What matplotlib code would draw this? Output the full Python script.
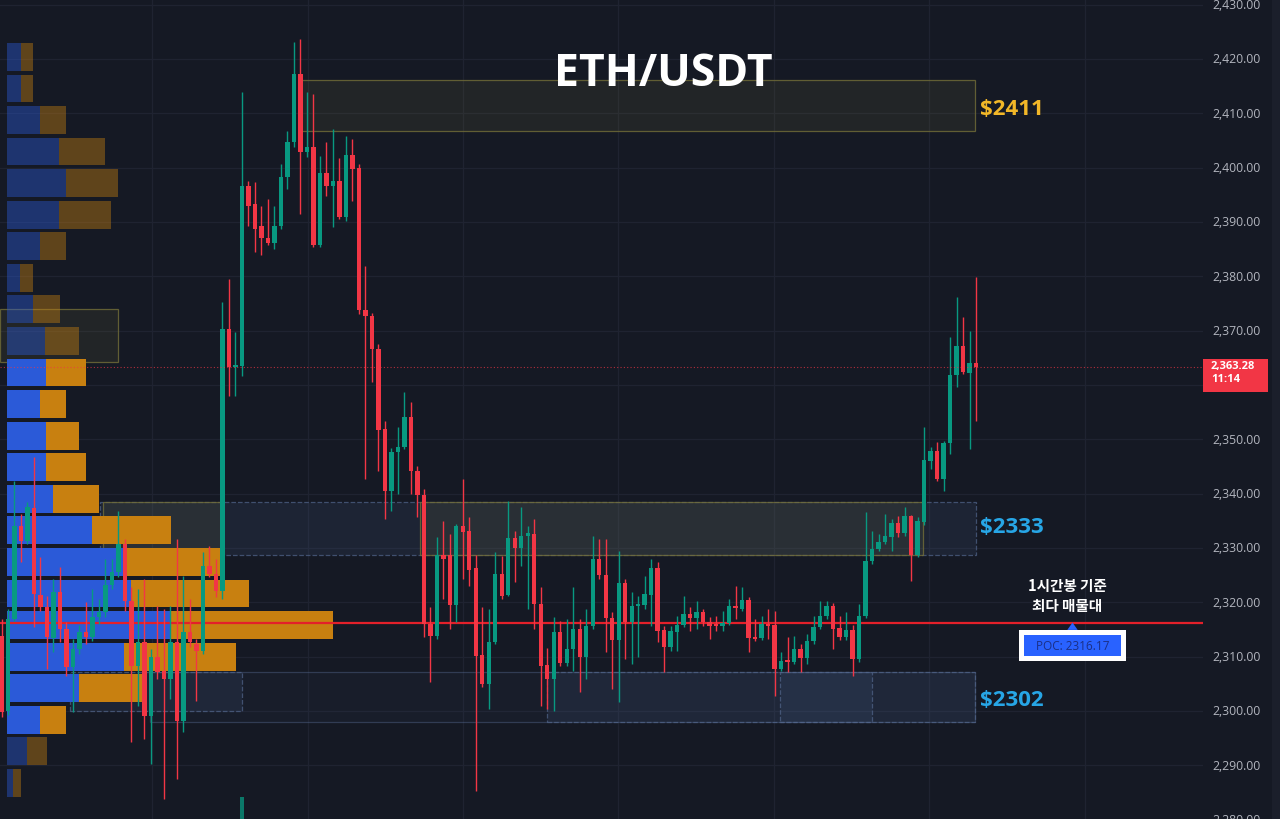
import matplotlib
matplotlib.use("Agg")
import matplotlib.pyplot as plt
import matplotlib.transforms as mtransforms
from matplotlib import font_manager
from matplotlib.patches import Rectangle, Polygon
import numpy as np

# Globals

# 1h candles, ETH/USDT
opens = [
    2313.8, 2300.0, 2316.9, 2334.0, 2331.3, 2337.4, 2321.3, 2319.1, 2313.4, 2321.9,
    2315.1, 2308.1, 2311.4, 2314.5, 2313.6, 2317.3, 2318.2, 2323.2, 2325.6, 2330.7,
    2320.2, 2308.3, 2312.7, 2299.1, 2309.9, 2307.4, 2305.9, 2312.7, 2298.2, 2314.5,
    2312.3, 2311.0, 2326.6, 2325.2, 2322.0, 2370.3, 2363.3, 2363.5, 2396.6, 2393.3,
    2389.2, 2387.0, 2386.2, 2389.2, 2398.3, 2404.7, 2417.2, 2402.9, 2403.8, 2385.8,
    2399.0, 2396.6, 2397.5, 2390.9, 2402.3, 2399.9, 2373.8, 2372.7, 2366.6, 2351.9,
    2340.5, 2347.7, 2348.6, 2354.1, 2344.2, 2339.8, 2316.0, 2313.8, 2328.7, 2328.7,
    2319.5, 2334.0, 2333.1, 2326.3, 2310.3, 2305.0, 2312.7, 2325.2, 2321.3, 2331.8,
    2330.0, 2332.2, 2332.6, 2319.7, 2308.5, 2305.9, 2314.5, 2308.8, 2311.4, 2315.1,
    2309.9, 2315.6, 2327.9, 2325.0, 2317.1, 2313.1, 2323.6, 2316.4, 2319.3, 2319.5,
    2321.3, 2326.3, 2314.9, 2311.8, 2314.5, 2315.8, 2317.8, 2317.1, 2318.2, 2316.4,
    2316.0, 2315.6, 2316.2, 2319.3, 2318.8, 2320.4, 2313.4, 2313.4, 2316.0, 2315.8,
    2307.8, 2309.4, 2309.0, 2311.4, 2309.8, 2312.9, 2315.5, 2317.5, 2319.3, 2315.3,
    2313.6, 2314.9, 2309.6, 2317.5, 2327.6, 2329.8, 2331.1, 2332.0, 2334.6, 2332.7,
    2335.9, 2328.7, 2334.8, 2346.0, 2347.8, 2342.7, 2349.3, 2361.8, 2367.2, 2362.2,
    2364.0,
]
highs = [
    2316.9, 2318.8, 2342.3, 2336.2, 2338.5, 2346.8, 2328.3, 2321.1, 2324.3, 2326.5,
    2316.4, 2313.2, 2315.8, 2320.1, 2322.4, 2320.6, 2327.9, 2327.9, 2336.8, 2331.6,
    2322.8, 2322.4, 2324.3, 2311.4, 2319.3, 2318.8, 2319.3, 2331.6, 2324.8, 2320.6,
    2313.2, 2329.2, 2330.3, 2327.9, 2375.3, 2379.5, 2369.7, 2413.9, 2397.5, 2397.4,
    2392.9, 2394.2, 2392.9, 2400.7, 2406.7, 2423.1, 2423.7, 2413.9, 2413.5, 2402.1,
    2404.7, 2407.1, 2401.7, 2405.8, 2405.3, 2400.7, 2381.9, 2373.2, 2367.5, 2353.4,
    2348.4, 2352.3, 2358.7, 2356.9, 2345.0, 2340.9, 2319.1, 2332.0, 2334.9, 2332.6,
    2334.4, 2342.7, 2335.7, 2328.7, 2319.1, 2318.8, 2329.2, 2328.5, 2338.6, 2333.1,
    2337.5, 2334.0, 2335.3, 2322.8, 2311.6, 2317.3, 2316.6, 2316.9, 2322.8, 2316.9,
    2318.8, 2332.2, 2331.6, 2331.6, 2318.2, 2329.4, 2324.3, 2321.9, 2321.1, 2324.8,
    2327.9, 2327.4, 2315.6, 2315.6, 2317.5, 2321.1, 2319.1, 2320.2, 2318.8, 2317.3,
    2317.5, 2318.4, 2320.6, 2323.0, 2322.8, 2321.0, 2316.9, 2317.5, 2318.8, 2318.4,
    2310.9, 2313.6, 2313.8, 2312.3, 2314.2, 2317.5, 2320.2, 2320.2, 2319.9, 2317.5,
    2318.2, 2315.8, 2319.7, 2336.6, 2333.1, 2332.6, 2336.2, 2335.3, 2335.9, 2337.5,
    2336.0, 2335.7, 2352.3, 2348.6, 2349.5, 2349.7, 2368.8, 2376.2, 2372.5, 2369.9,
    2379.9,
]
lows = [
    2298.9, 2299.3, 2316.6, 2327.4, 2330.7, 2315.5, 2318.4, 2307.8, 2310.9, 2312.7,
    2306.4, 2299.8, 2310.5, 2312.3, 2312.9, 2316.0, 2317.3, 2322.4, 2324.7, 2318.4,
    2294.3, 2300.9, 2294.8, 2290.2, 2305.9, 2283.8, 2302.2, 2287.5, 2296.1, 2311.7,
    2301.8, 2310.5, 2324.7, 2321.0, 2320.6, 2358.0, 2358.0, 2361.7, 2389.3, 2384.4,
    2384.0, 2385.8, 2385.0, 2388.8, 2396.1, 2403.8, 2391.5, 2402.0, 2385.4, 2385.4,
    2394.8, 2389.1, 2390.6, 2390.1, 2393.9, 2373.1, 2342.7, 2360.5, 2344.2, 2335.3,
    2336.8, 2339.9, 2348.2, 2339.9, 2335.7, 2313.6, 2305.3, 2313.2, 2320.6, 2315.1,
    2316.4, 2324.3, 2323.0, 2285.3, 2304.4, 2300.4, 2312.3, 2320.6, 2321.1, 2323.7,
    2326.6, 2318.8, 2315.1, 2300.9, 2300.4, 2300.0, 2308.3, 2308.3, 2307.4, 2303.5,
    2305.9, 2315.1, 2324.3, 2310.9, 2304.0, 2301.6, 2309.6, 2308.7, 2309.9, 2318.8,
    2315.6, 2312.7, 2307.2, 2311.0, 2311.0, 2315.5, 2314.7, 2315.1, 2315.6, 2313.2,
    2314.7, 2314.7, 2315.8, 2316.9, 2318.4, 2310.9, 2312.9, 2313.1, 2313.2, 2302.8,
    2307.4, 2307.2, 2308.7, 2307.2, 2308.7, 2312.3, 2315.1, 2316.9, 2311.4, 2313.1,
    2313.1, 2306.4, 2309.0, 2317.1, 2327.0, 2329.4, 2330.7, 2329.4, 2332.0, 2332.2,
    2323.9, 2328.3, 2334.2, 2344.5, 2342.3, 2340.5, 2347.3, 2359.6, 2362.0, 2348.2,
    2353.4,
]
closes = [
    2299.8, 2316.9, 2334.0, 2331.3, 2337.5, 2321.5, 2319.1, 2313.6, 2321.9, 2315.1,
    2308.1, 2311.4, 2314.5, 2313.6, 2317.3, 2318.2, 2323.2, 2325.6, 2330.7, 2320.2,
    2308.3, 2312.7, 2299.1, 2309.9, 2307.2, 2305.9, 2312.7, 2298.2, 2314.5, 2312.7,
    2311.0, 2326.6, 2325.2, 2322.0, 2370.3, 2363.3, 2363.7, 2396.6, 2392.9, 2388.8,
    2387.0, 2386.2, 2389.2, 2398.3, 2404.7, 2417.2, 2402.9, 2403.8, 2385.8, 2399.0,
    2396.6, 2397.5, 2390.9, 2402.3, 2399.7, 2373.8, 2372.7, 2366.6, 2351.7, 2340.5,
    2347.7, 2348.6, 2354.1, 2344.2, 2339.8, 2316.0, 2313.8, 2328.7, 2327.9, 2319.5,
    2334.0, 2332.9, 2325.9, 2310.1, 2305.0, 2312.7, 2325.2, 2321.1, 2331.8, 2330.0,
    2332.2, 2332.7, 2319.7, 2308.3, 2305.9, 2314.5, 2308.8, 2311.4, 2315.1, 2309.9,
    2315.6, 2327.9, 2325.0, 2317.1, 2313.1, 2323.6, 2316.4, 2319.3, 2319.7, 2321.5,
    2326.3, 2314.7, 2311.8, 2314.7, 2315.8, 2317.8, 2317.1, 2318.2, 2316.4, 2315.6,
    2315.6, 2316.2, 2319.3, 2318.9, 2320.4, 2313.4, 2313.2, 2316.0, 2315.6, 2307.8,
    2309.2, 2309.0, 2311.4, 2309.8, 2312.9, 2315.5, 2317.5, 2319.3, 2315.1, 2313.6,
    2314.9, 2309.6, 2317.5, 2327.6, 2329.8, 2331.1, 2332.2, 2334.6, 2332.7, 2335.9,
    2328.7, 2334.9, 2346.2, 2347.8, 2342.7, 2349.3, 2361.8, 2367.2, 2362.4, 2364.0,
    2363.28,
]

# Volume profile rows, top row first (buy = blue, sell = orange)
profile_buy = [14, 14, 33, 52, 59, 52, 33, 13, 26, 38, 39, 33, 39, 39, 46, 85, 118, 124, 163, 117, 72, 33, 20, 6]
profile_sell = [12, 12, 26, 46, 52, 52, 26, 13, 27, 34, 40, 26, 33, 40, 46, 79, 95, 118, 163, 112, 63, 26, 20, 8]
PROFILE_TOP = 2423.3
PROFILE_STEP = 5.81
VALUE_AREA = range(10, 22)

POC = 2316.17
LAST_PRICE = 2363.28
LAST_TIMER = "11:14"

# candle index 37 has the only volume bar tall enough to show
volume_spike = (37, 2284.2)

price_ticks = list(range(2280, 2431, 10))
time_grid = [23.2, 47.1, 71.0, 94.9, 118.9, 142.8, 166.8]

# zones: (first candle, last candle, low, high, style)
zones = [
    (46.0, 149.8, 2406.7, 2416.1, "olive"),
    (-0.3, 17.9, 2364.2, 2374.0, "olive"),
    (15.2, 150.0, 2328.7, 2338.5, "blue"),
    (15.6, 34.0, 2328.7, 2338.5, "olive"),
    (64.4, 141.8, 2328.7, 2338.5, "olive"),
    (22.9, 149.8, 2298.0, 2307.2, "faint"),
    (10.5, 37.0, 2300.0, 2307.2, "blue"),
    (84.0, 149.8, 2298.0, 2307.2, "blue"),
    (119.8, 134.0, 2298.0, 2307.2, "blue"),
]
zone_labels = [("$2411", 2410.8, "#f2b728"), ("$2333", 2334.0, "#27a6e6"), ("$2302", 2302.2, "#27a6e6")]

# Layout (pixels of the 1280x820 canvas)
W, H = 1280, 820
PLOT_W = 1203
X0_PX = 1.5
STEP_PX = 6.497
YLIM = (2280.12, 2431.04)
TAG_ABOVE, TAG_BELOW = 8, 25  # px of the last-price tag around the price

BG = "#151924"
GRID = "#1f2331"
GREEN = "#089981"
RED = "#f23645"
BLUE = "#2b5ad8"
ORANGE = "#c88010"

ZONE_STYLE = {
    "olive": dict(facecolor=(0.47, 0.45, 0.24, 0.14), edgecolor=(0.45, 0.43, 0.22, 0.8), linestyle="-"),
    "blue": dict(facecolor=(0.30, 0.40, 0.58, 0.15), edgecolor=(0.32, 0.40, 0.55, 0.7), linestyle="--"),
    "faint": dict(facecolor=(0.30, 0.40, 0.58, 0.06), edgecolor=(0.32, 0.40, 0.55, 0.45), linestyle="-"),
}

KR = ["Noto Sans CJK KR", "DejaVu Sans"]


def bold_family():
    """
    Returns the first sans family that really has a bold face installed.
    """
    for fam in ["Noto Sans", "Open Sans", "Roboto", "Lato", "Liberation Sans"]:
        try:
            path = font_manager.findfont(font_manager.FontProperties(family=fam, weight="bold"),
                                         fallback_to_default=False)
        except ValueError:
            continue
        if "bold" in path.lower():
            return fam
    return "DejaVu Sans"


def price_to_frac(p):
    return (p - YLIM[0]) / (YLIM[1] - YLIM[0])


def draw_zones(ax, fam):
    for x0, x1, lo, hi, style in zones:
        ax.add_patch(Rectangle((x0, lo), x1 - x0, hi - lo, linewidth=0.9, zorder=1.5, **ZONE_STYLE[style]))
    for text, y, color in zone_labels:
        ax.text(150.6, y, text, color=color, fontsize=16, fontweight="bold", family=fam,
                ha="left", va="center", zorder=6)


def draw_profile(ax):
    left = (7 - X0_PX) / STEP_PX
    h = PROFILE_STEP * 0.88
    for k, (b, s) in enumerate(zip(profile_buy, profile_sell)):
        center = PROFILE_TOP - PROFILE_STEP * (k + 0.5)
        alpha = 1.0 if k in VALUE_AREA else 0.42
        bw = b / STEP_PX
        sw = s / STEP_PX
        ax.barh(center, bw, left=left, height=h, color=BLUE, alpha=alpha, zorder=2, linewidth=0)
        ax.barh(center, sw, left=left + bw, height=h, color=ORANGE, alpha=alpha, zorder=2, linewidth=0)


def draw_candles(ax):
    o = np.array(opens)
    c = np.array(closes)
    x = np.arange(len(o))
    colors = [GREEN if cc >= oo else RED for oo, cc in zip(o, c)]
    ax.vlines(x, lows, highs, colors=colors, linewidth=1.0, zorder=3)
    bottom = np.minimum(o, c)
    height = np.maximum(np.abs(c - o), 0.35)
    ax.bar(x, height, bottom=bottom, width=0.68, color=colors, linewidth=0, zorder=3.5)
    idx, top = volume_spike
    ax.bar(idx, top - YLIM[0], bottom=YLIM[0], width=0.68, color=GREEN, alpha=0.75, linewidth=0, zorder=2)


def draw_poc(ax, fam):
    ax.axhline(POC, color="#e3202a", linewidth=1.6, zorder=2.6)
    cx = (1072.5 - X0_PX) / STEP_PX
    cy = POC - 4.1
    ow, oh = 107 / STEP_PX, 31 * 0.18405
    iw, ih = 97 / STEP_PX, 21 * 0.18405
    ax.add_patch(Rectangle((cx - ow / 2, cy - oh / 2), ow, oh, facecolor="white", edgecolor="none", zorder=6))
    ax.add_patch(Rectangle((cx - iw / 2, cy - ih / 2), iw, ih, facecolor="#2962ff", edgecolor="none", zorder=6.5))
    ax.text(cx, cy, f"POC: {POC:.2f}", color="#1b2f86", fontsize=8.5, family=fam,
            ha="center", va="center", zorder=7)
    tri = [(cx - 0.8, cy + oh / 2), (cx + 0.8, cy + oh / 2), (cx, POC + 0.1)]
    ax.add_patch(Polygon(tri, closed=True, facecolor="#2962ff", edgecolor="none", zorder=6))
    ax.text(cx - 0.8, POC + 5.2, "1시간봉 기준\n최다 매물대", color="white", fontsize=10.5, fontweight="bold",
            family=KR, ha="center", va="center", linespacing=1.3, zorder=7)


def draw_price_scale(fig, ax, fam):
    trans = mtransforms.blended_transform_factory(ax.transAxes, ax.transData)
    tag_frac = price_to_frac(LAST_PRICE)
    tag_lo = tag_frac - (TAG_BELOW + 6) / H
    tag_hi = tag_frac + (TAG_ABOVE + 6) / H
    for p in price_ticks:
        if tag_lo < price_to_frac(p) < tag_hi:
            continue  # hidden behind the last-price tag
        ax.text(1 + 9 / PLOT_W, p, f"{p:,.2f}", transform=trans, color="#b2b5be", fontsize=8.8,
                family=fam, ha="left", va="center", clip_on=False)
    # last price tag, price and countdown in one label
    fig.add_artist(Rectangle((PLOT_W / W, tag_frac - TAG_BELOW / H), 65 / W, (TAG_ABOVE + TAG_BELOW) / H,
                             transform=fig.transFigure, facecolor=RED, edgecolor="none", zorder=8))
    fig.text((PLOT_W + 8) / W, tag_frac + 7 / H, f"{LAST_PRICE:,.2f}\n{LAST_TIMER}", color="white",
             fontsize=8, fontweight="bold", family=fam, ha="left", va="top", linespacing=1.25, zorder=9)
    fig.add_artist(Rectangle((1272 / W, 0), 8 / W, 1, transform=fig.transFigure,
                             facecolor="#1b1f2b", edgecolor="none", zorder=1))


def main():
    fam = bold_family()
    fig = plt.figure(figsize=(W / 100, H / 100), dpi=100, facecolor=BG)
    ax = fig.add_axes([0, 0, PLOT_W / W, 1])
    ax.set_facecolor(BG)
    ax.set_xlim(-X0_PX / STEP_PX, (PLOT_W - X0_PX) / STEP_PX)
    ax.set_ylim(*YLIM)
    for s in ax.spines.values():
        s.set_visible(False)
    ax.set_xticks([])
    ax.set_yticks([])

    for p in price_ticks:
        ax.axhline(p, color=GRID, linewidth=0.9, zorder=0.5)
    for t in time_grid:
        ax.axvline(t, color=GRID, linewidth=0.9, zorder=0.5)

    draw_zones(ax, fam)
    draw_profile(ax)
    draw_poc(ax, fam)
    draw_candles(ax)
    ax.axhline(LAST_PRICE, color=RED, linewidth=0.8, linestyle=(0, (1, 2)), alpha=0.7, zorder=4)

    fig.text(663 / W, 1 - 74 / H, "ETH/USDT", color="white", fontsize=32, fontweight="bold",
             family=fam, ha="center", va="center")

    draw_price_scale(fig, ax, fam)
    fig.savefig("out.png", dpi=100, facecolor=BG)


if __name__ == "__main__":
    main()
